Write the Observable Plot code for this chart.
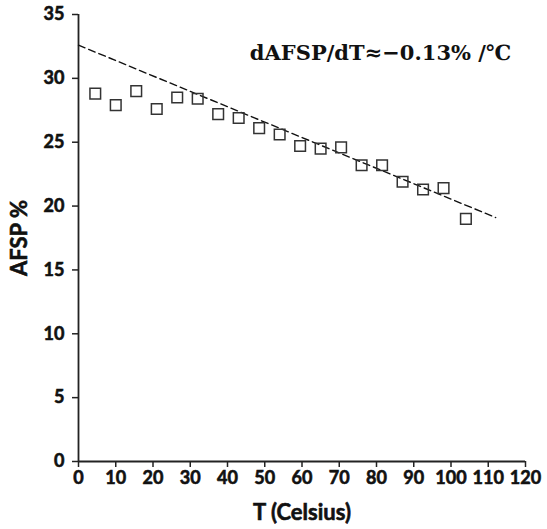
<!DOCTYPE html>
<html>
<head>
<meta charset="utf-8">
<script src="https://cdn.jsdelivr.net/npm/d3@7"></script>
<script src="https://cdn.jsdelivr.net/npm/@observablehq/plot@0.6"></script>
<style>
  html, body { margin: 0; padding: 0; background: #fff; }
  #chart svg { display: block; }
  #chart svg g[aria-label="x-axis tick label"],
  #chart svg g[aria-label="y-axis tick label"],
  #chart svg g[aria-label="x-axis label"],
  #chart svg g[aria-label="y-axis label"] { stroke: #111; stroke-width: 0.6px; }
</style>
</head>
<body>
<div id="chart"></div>
<script>
// Measured temperatures (°C) and AFSP (%)
const temperature = [4.5, 10, 15.5, 21, 26.5, 32, 37.5, 43, 48.5, 54, 59.5, 65, 70.5, 76, 81.5, 87, 92.5, 98, 104];
const afsp = [28.8, 27.9, 29.0, 27.6, 28.5, 28.4, 27.2, 26.9, 26.1, 25.6, 24.7, 24.5, 24.6, 23.2, 23.2, 21.9, 21.3, 21.4, 19.0];
// Linear fit endpoints (dashed trend line)
const fitT = [0, 112];
const fitAFSP = [32.6, 19.1];
const xTicks = [0, 10, 20, 30, 40, 50, 60, 70, 80, 90, 100, 110, 120];
const yTicks = [0, 5, 10, 15, 20, 25, 30, 35];
const annotation = "dAFSP/dT≈−0.13% /℃";
const annotationPos = {T: 46, AFSP: 32.0};

const points = temperature.map((t, i) => ({T: t, AFSP: afsp[i]}));
const fit = fitT.map((t, i) => ({T: t, AFSP: fitAFSP[i]}));

const font = "Lato, 'Open Sans', sans-serif";

const chart = Plot.plot({
  width: 547,
  height: 529,
  marginLeft: 78,
  marginRight: 22,
  marginTop: 14,
  marginBottom: 68,
  style: {fontFamily: font, fontSize: "18px", fontWeight: "bold", color: "#111", background: "#fff"},
  x: {domain: [0, 120], ticks: xTicks, label: null},
  y: {domain: [0, 35], ticks: yTicks, label: null},
  marks: [
    Plot.axisX({ticks: xTicks, tickSize: 6, tickPadding: 4, stroke: "#222", strokeWidth: 1.5, fontSize: 18, fontWeight: "bold"}),
    Plot.axisY({ticks: yTicks, tickSize: 6, tickPadding: 8, stroke: "#222", strokeWidth: 1.5, fontSize: 18, fontWeight: "bold"}),
    Plot.axisX({ticks: [], label: "T (Celsius)", labelAnchor: "center", labelArrow: "none", labelOffset: 58, fontSize: 22, fontWeight: "bold"}),
    Plot.axisY({ticks: [], label: "AFSP %", labelAnchor: "center", labelArrow: "none", labelOffset: 67, fontSize: 22, fontWeight: "bold"}),
    Plot.ruleY([0], {stroke: "#222", strokeWidth: 1.8}),
    Plot.ruleX([0], {stroke: "#222", strokeWidth: 1.8}),
    Plot.line(fit, {x: "T", y: "AFSP", stroke: "#111", strokeWidth: 1.4, strokeDasharray: "7,4"}),
    Plot.dot(points, {x: "T", y: "AFSP", symbol: "square", r: 6, stroke: "#333", strokeWidth: 1.5, fill: "none"}),
    Plot.text([annotationPos], {x: "T", y: "AFSP", text: () => annotation, textAnchor: "start", fontFamily: "'DejaVu Serif', 'Liberation Serif', serif", fontSize: 21, fontWeight: "bold", fill: "#111", letterSpacing: "-1px"})
  ]
});

document.getElementById("chart").append(chart);
</script>
</body>
</html>
